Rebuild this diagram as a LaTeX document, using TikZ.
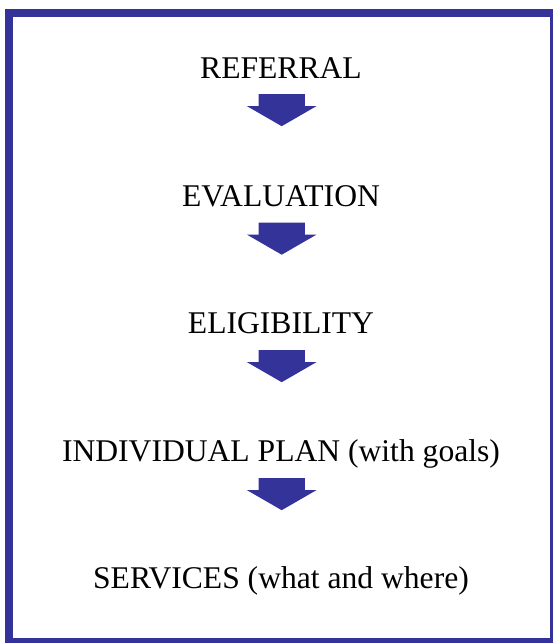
\documentclass[tikz,border=0pt]{standalone}
\usepackage{fontspec}
\setmainfont{Liberation Serif}
\usetikzlibrary{shapes.arrows}
\definecolor{deepblue}{HTML}{333399}
\tikzset{
  stage/.style={anchor=base, inner sep=0pt, font=\fontsize{31.6}{38}\selectfont},
  downarrow/.style={single arrow, fill=deepblue, draw=none,
    inner xsep=0pt, inner ysep=23pt,
    minimum height=32pt, single arrow head extend=11.5pt,
    single arrow tip angle=120, rotate=-90, anchor=tail}
}
\begin{document}
\begin{tikzpicture}[x=1pt, y=-1pt]
    	\useasboundingbox (0,0) rectangle (553,643);
    	\clip (0,0) rectangle (553,643);
    	% outer frame
    	\draw[deepblue, line width=7.6pt] (9,13) rectangle (553.3,641.5);
    	% the steps, top to bottom
    	\node[stage] (referral) at (281,78.3) {REFERRAL};
    	\node[downarrow] (a1) at (281.7,94) {};
    	\node[stage] (evaluation) at (281,206) {EVALUATION};
    	\node[downarrow] (a2) at (281.7,222.5) {};
    	\node[stage] (eligibility) at (281,333) {ELIGIBILITY};
    	\node[downarrow] (a3) at (281.7,350) {};
    	\node[stage] (plan) at (281,461) {INDIVIDUAL PLAN (with goals)};
    	\node[downarrow] (a4) at (281.7,478) {};
    	\node[stage] (services) at (281,588.3) {SERVICES (what and where)};
\end{tikzpicture}
\end{document}
